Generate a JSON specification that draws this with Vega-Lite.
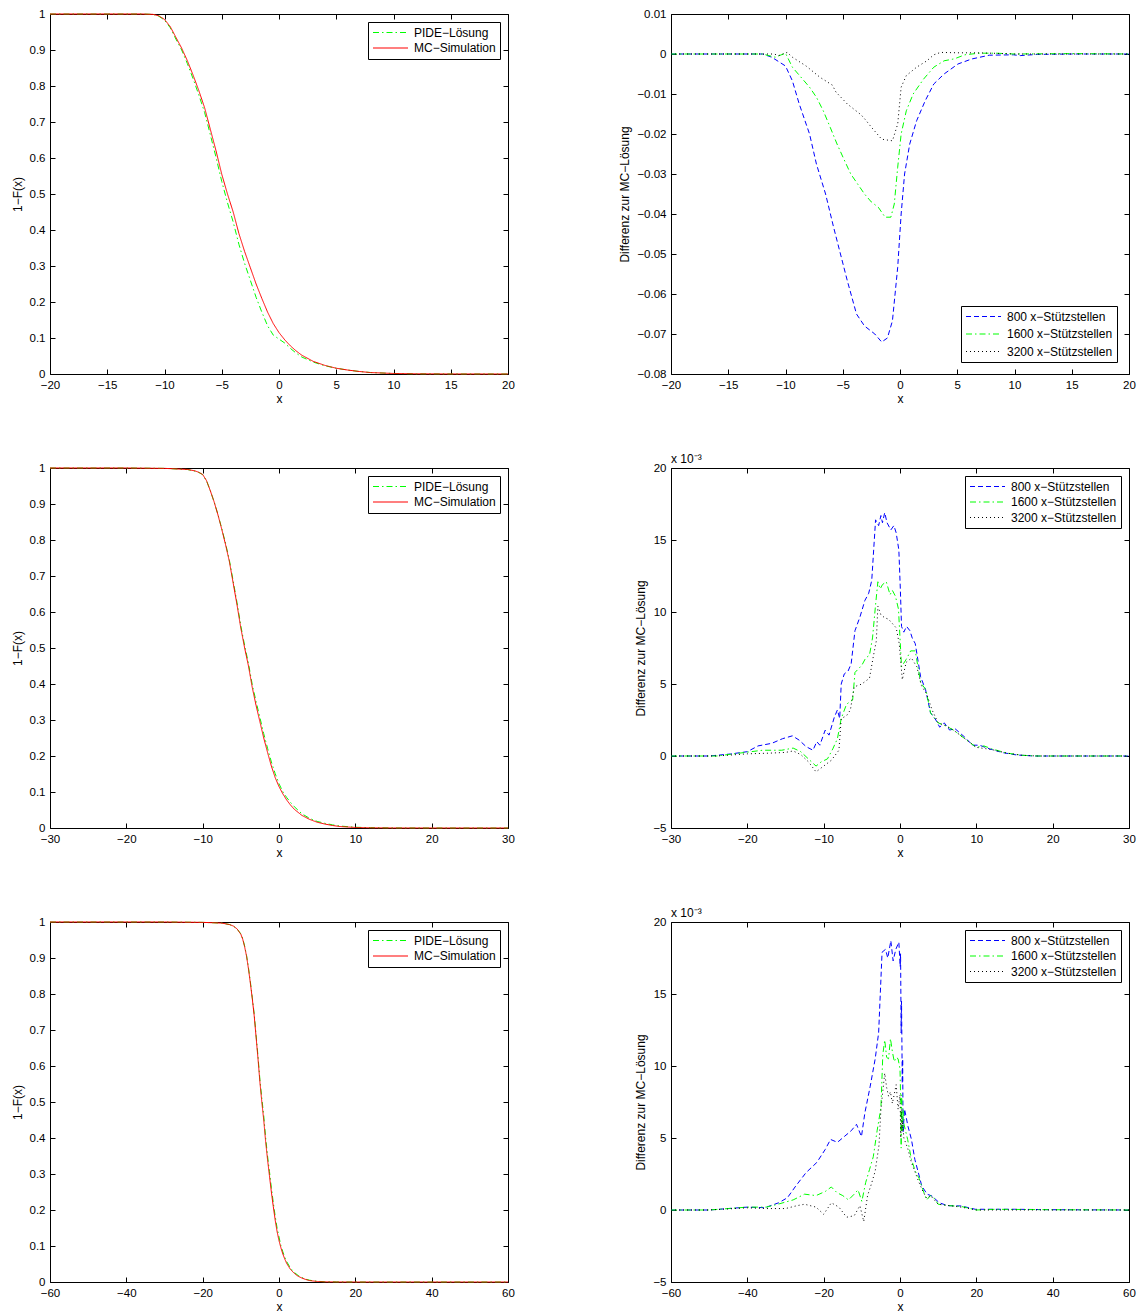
{
"$schema": "https://vega.github.io/schema/vega-lite/v6.json",
"background": "white",
"padding": {"left": 10, "top": 7, "right": 5, "bottom": 5},
"config": {
  "font": "Liberation Sans",
  "view": {"stroke": "black", "strokeWidth": 1},
  "axis": {"grid": false, "domain": false, "tickColor": "black", "tickSize": -5, "tickWidth": 1, "labelFont": "Liberation Sans", "labelFontSize": 11.5, "labelColor": "black", "titleFont": "Liberation Sans", "titleFontSize": 12, "titleFontWeight": "normal", "titleColor": "black", "labelFlush": false, "labelOverlap": false, "format": "~f"},
  "axisX": {"labelPadding": 10, "titlePadding": 3},
  "axisY": {"labelPadding": 10, "titlePadding": 5},
  "legend": {"labelFont": "Liberation Sans", "labelFontSize": 12, "labelColor": "black", "strokeColor": "black", "fillColor": "white", "padding": 4, "symbolType": "stroke", "symbolSize": 1225, "symbolStrokeWidth": 1.2, "symbolOpacity": 1, "clipHeight": 13, "rowPadding": 2.5, "labelOffset": 5},
  "title": {"font": "Liberation Sans", "fontSize": 12, "fontWeight": "normal", "color": "black"}
},
"datasets": {
"a": [
{"s":"PIDE−Lösung","x":-20,"y":1},{"s":"PIDE−Lösung","x":-15,"y":1},{"s":"PIDE−Lösung","x":-12,"y":1},{"s":"PIDE−Lösung","x":-11,"y":0.999},{"s":"PIDE−Lösung","x":-10.5,"y":0.994},{"s":"PIDE−Lösung","x":-10,"y":0.983},{"s":"PIDE−Lösung","x":-9.5,"y":0.962},{"s":"PIDE−Lösung","x":-9,"y":0.93},{"s":"PIDE−Lösung","x":-8.5,"y":0.9},{"s":"PIDE−Lösung","x":-8,"y":0.862},{"s":"PIDE−Lösung","x":-7.5,"y":0.82},{"s":"PIDE−Lösung","x":-7,"y":0.775},{"s":"PIDE−Lösung","x":-6.5,"y":0.727},{"s":"PIDE−Lösung","x":-6,"y":0.665},{"s":"PIDE−Lösung","x":-5.5,"y":0.602},{"s":"PIDE−Lösung","x":-5,"y":0.535},{"s":"PIDE−Lösung","x":-4.5,"y":0.476},{"s":"PIDE−Lösung","x":-4,"y":0.422},{"s":"PIDE−Lösung","x":-3.5,"y":0.36},{"s":"PIDE−Lösung","x":-3,"y":0.307},{"s":"PIDE−Lösung","x":-2.5,"y":0.26},{"s":"PIDE−Lösung","x":-2,"y":0.213},{"s":"PIDE−Lösung","x":-1.5,"y":0.172},{"s":"PIDE−Lösung","x":-1,"y":0.134},{"s":"PIDE−Lösung","x":-0.5,"y":0.108},{"s":"PIDE−Lösung","x":0,"y":0.097},{"s":"PIDE−Lösung","x":0.5,"y":0.086},{"s":"PIDE−Lösung","x":1,"y":0.071},{"s":"PIDE−Lösung","x":1.5,"y":0.058},{"s":"PIDE−Lösung","x":2,"y":0.047},{"s":"PIDE−Lösung","x":3,"y":0.033},{"s":"PIDE−Lösung","x":4,"y":0.023},{"s":"PIDE−Lösung","x":5,"y":0.016},{"s":"PIDE−Lösung","x":6,"y":0.011},{"s":"PIDE−Lösung","x":7,"y":0.007},{"s":"PIDE−Lösung","x":8,"y":0.004},{"s":"PIDE−Lösung","x":10,"y":0.0015},{"s":"PIDE−Lösung","x":12,"y":0.0005},{"s":"PIDE−Lösung","x":15,"y":0.0001},{"s":"PIDE−Lösung","x":20,"y":0},
{"s":"MC−Simulation","x":-20,"y":1},{"s":"MC−Simulation","x":-15,"y":1},{"s":"MC−Simulation","x":-12,"y":1},{"s":"MC−Simulation","x":-11,"y":0.999},{"s":"MC−Simulation","x":-10.5,"y":0.995},{"s":"MC−Simulation","x":-10,"y":0.985},{"s":"MC−Simulation","x":-9.5,"y":0.965},{"s":"MC−Simulation","x":-9,"y":0.935},{"s":"MC−Simulation","x":-8.5,"y":0.905},{"s":"MC−Simulation","x":-8,"y":0.87},{"s":"MC−Simulation","x":-7.5,"y":0.83},{"s":"MC−Simulation","x":-7,"y":0.787},{"s":"MC−Simulation","x":-6.5,"y":0.74},{"s":"MC−Simulation","x":-6,"y":0.68},{"s":"MC−Simulation","x":-5.5,"y":0.62},{"s":"MC−Simulation","x":-5,"y":0.555},{"s":"MC−Simulation","x":-4.5,"y":0.5},{"s":"MC−Simulation","x":-4,"y":0.45},{"s":"MC−Simulation","x":-3.5,"y":0.39},{"s":"MC−Simulation","x":-3,"y":0.34},{"s":"MC−Simulation","x":-2.5,"y":0.295},{"s":"MC−Simulation","x":-2,"y":0.25},{"s":"MC−Simulation","x":-1.5,"y":0.21},{"s":"MC−Simulation","x":-1,"y":0.172},{"s":"MC−Simulation","x":-0.5,"y":0.14},{"s":"MC−Simulation","x":0,"y":0.115},{"s":"MC−Simulation","x":0.5,"y":0.095},{"s":"MC−Simulation","x":1,"y":0.078},{"s":"MC−Simulation","x":1.5,"y":0.064},{"s":"MC−Simulation","x":2,"y":0.052},{"s":"MC−Simulation","x":3,"y":0.035},{"s":"MC−Simulation","x":4,"y":0.024},{"s":"MC−Simulation","x":5,"y":0.016},{"s":"MC−Simulation","x":6,"y":0.011},{"s":"MC−Simulation","x":7,"y":0.007},{"s":"MC−Simulation","x":8,"y":0.004},{"s":"MC−Simulation","x":10,"y":0.0015},{"s":"MC−Simulation","x":12,"y":0.0005},{"s":"MC−Simulation","x":15,"y":0.0001},{"s":"MC−Simulation","x":20,"y":0}
],
"b": [
{"s":"800 x−Stützstellen","x":-20,"y":0},{"s":"800 x−Stützstellen","x":-15,"y":0},{"s":"800 x−Stützstellen","x":-12,"y":0},{"s":"800 x−Stützstellen","x":-11.2,"y":-0.0008},{"s":"800 x−Stützstellen","x":-10,"y":-0.003},{"s":"800 x−Stützstellen","x":-9.4,"y":-0.0067},{"s":"800 x−Stützstellen","x":-8.8,"y":-0.0125},{"s":"800 x−Stützstellen","x":-7.9,"y":-0.02},{"s":"800 x−Stützstellen","x":-7.3,"y":-0.0275},{"s":"800 x−Stützstellen","x":-6.5,"y":-0.035},{"s":"800 x−Stützstellen","x":-5.8,"y":-0.0433},{"s":"800 x−Stützstellen","x":-5.2,"y":-0.05},{"s":"800 x−Stützstellen","x":-4.6,"y":-0.0567},{"s":"800 x−Stützstellen","x":-3.8,"y":-0.065},{"s":"800 x−Stützstellen","x":-3.1,"y":-0.068},{"s":"800 x−Stützstellen","x":-2.2,"y":-0.07},{"s":"800 x−Stützstellen","x":-1.6,"y":-0.072},{"s":"800 x−Stützstellen","x":-1.1,"y":-0.071},{"s":"800 x−Stützstellen","x":-0.66,"y":-0.0667},{"s":"800 x−Stützstellen","x":-0.2,"y":-0.0533},{"s":"800 x−Stützstellen","x":0.1,"y":-0.04},{"s":"800 x−Stützstellen","x":0.4,"y":-0.03},{"s":"800 x−Stützstellen","x":0.85,"y":-0.0225},{"s":"800 x−Stützstellen","x":1.45,"y":-0.0167},{"s":"800 x−Stützstellen","x":2.2,"y":-0.0117},{"s":"800 x−Stützstellen","x":2.95,"y":-0.0075},{"s":"800 x−Stützstellen","x":3.85,"y":-0.005},{"s":"800 x−Stützstellen","x":5.06,"y":-0.0025},{"s":"800 x−Stützstellen","x":6.26,"y":-0.00125},{"s":"800 x−Stützstellen","x":7.8,"y":-0.0003},{"s":"800 x−Stützstellen","x":9.9,"y":-0.0002},{"s":"800 x−Stützstellen","x":10.5,"y":-0.0004},{"s":"800 x−Stützstellen","x":12,"y":-0.0001},{"s":"800 x−Stützstellen","x":15,"y":0},{"s":"800 x−Stützstellen","x":20,"y":0},
{"s":"1600 x−Stützstellen","x":-20,"y":0},{"s":"1600 x−Stützstellen","x":-15,"y":0},{"s":"1600 x−Stützstellen","x":-12,"y":0},{"s":"1600 x−Stützstellen","x":-10.9,"y":-0.0008},{"s":"1600 x−Stützstellen","x":-10,"y":0.0002},{"s":"1600 x−Stützstellen","x":-9.4,"y":-0.0033},{"s":"1600 x−Stützstellen","x":-8.5,"y":-0.0063},{"s":"1600 x−Stützstellen","x":-7.9,"y":-0.0083},{"s":"1600 x−Stützstellen","x":-7.3,"y":-0.0108},{"s":"1600 x−Stützstellen","x":-6.7,"y":-0.0142},{"s":"1600 x−Stützstellen","x":-6.1,"y":-0.0183},{"s":"1600 x−Stützstellen","x":-5.5,"y":-0.0225},{"s":"1600 x−Stützstellen","x":-4.9,"y":-0.0263},{"s":"1600 x−Stützstellen","x":-4.3,"y":-0.03},{"s":"1600 x−Stützstellen","x":-3.7,"y":-0.0325},{"s":"1600 x−Stützstellen","x":-3.1,"y":-0.035},{"s":"1600 x−Stützstellen","x":-2.5,"y":-0.037},{"s":"1600 x−Stützstellen","x":-1.9,"y":-0.0383},{"s":"1600 x−Stützstellen","x":-1.3,"y":-0.0408},{"s":"1600 x−Stützstellen","x":-0.8,"y":-0.0408},{"s":"1600 x−Stützstellen","x":-0.5,"y":-0.0375},{"s":"1600 x−Stützstellen","x":-0.2,"y":-0.0283},{"s":"1600 x−Stützstellen","x":0.1,"y":-0.02},{"s":"1600 x−Stützstellen","x":0.55,"y":-0.0142},{"s":"1600 x−Stützstellen","x":1.15,"y":-0.01},{"s":"1600 x−Stützstellen","x":2.05,"y":-0.0063},{"s":"1600 x−Stützstellen","x":2.95,"y":-0.0033},{"s":"1600 x−Stützstellen","x":3.85,"y":-0.0017},{"s":"1600 x−Stützstellen","x":4.76,"y":-0.0012},{"s":"1600 x−Stützstellen","x":5.66,"y":-0.0002},{"s":"1600 x−Stützstellen","x":6.9,"y":0.0002},{"s":"1600 x−Stützstellen","x":8.4,"y":0.0002},{"s":"1600 x−Stützstellen","x":10,"y":0},{"s":"1600 x−Stützstellen","x":15,"y":0.0001},{"s":"1600 x−Stützstellen","x":20,"y":0},
{"s":"3200 x−Stützstellen","x":-20,"y":0},{"s":"3200 x−Stützstellen","x":-15,"y":0},{"s":"3200 x−Stützstellen","x":-11,"y":0},{"s":"3200 x−Stützstellen","x":-10.6,"y":-0.0004},{"s":"3200 x−Stützstellen","x":-9.85,"y":0.0004},{"s":"3200 x−Stützstellen","x":-9.4,"y":-0.0008},{"s":"3200 x−Stützstellen","x":-8.2,"y":-0.003},{"s":"3200 x−Stützstellen","x":-7,"y":-0.0058},{"s":"3200 x−Stützstellen","x":-5.9,"y":-0.0078},{"s":"3200 x−Stützstellen","x":-5.6,"y":-0.0095},{"s":"3200 x−Stützstellen","x":-4.6,"y":-0.0125},{"s":"3200 x−Stützstellen","x":-3.4,"y":-0.0152},{"s":"3200 x−Stützstellen","x":-3,"y":-0.0165},{"s":"3200 x−Stützstellen","x":-2.5,"y":-0.0183},{"s":"3200 x−Stützstellen","x":-1.6,"y":-0.0213},{"s":"3200 x−Stützstellen","x":-0.66,"y":-0.0217},{"s":"3200 x−Stützstellen","x":-0.2,"y":-0.0175},{"s":"3200 x−Stützstellen","x":0.1,"y":-0.0083},{"s":"3200 x−Stützstellen","x":0.55,"y":-0.0054},{"s":"3200 x−Stützstellen","x":1.45,"y":-0.0033},{"s":"3200 x−Stützstellen","x":2.35,"y":-0.0017},{"s":"3200 x−Stützstellen","x":2.95,"y":-0.0002},{"s":"3200 x−Stützstellen","x":3.55,"y":0.0004},{"s":"3200 x−Stützstellen","x":5.06,"y":0.0003},{"s":"3200 x−Stützstellen","x":6.57,"y":0.0003},{"s":"3200 x−Stützstellen","x":8,"y":0.0002},{"s":"3200 x−Stützstellen","x":10,"y":0},{"s":"3200 x−Stützstellen","x":20,"y":0}
],
"c": [
{"s":"PIDE−Lösung","x":-30,"y":1},{"s":"PIDE−Lösung","x":-20,"y":1},{"s":"PIDE−Lösung","x":-15,"y":0.999},{"s":"PIDE−Lösung","x":-12,"y":0.9958},{"s":"PIDE−Lösung","x":-11,"y":0.9913},{"s":"PIDE−Lösung","x":-10.5,"y":0.9875},{"s":"PIDE−Lösung","x":-10,"y":0.9817},{"s":"PIDE−Lösung","x":-9.5,"y":0.9648},{"s":"PIDE−Lösung","x":-9,"y":0.9373},{"s":"PIDE−Lösung","x":-8.5,"y":0.906},{"s":"PIDE−Lösung","x":-8,"y":0.871},{"s":"PIDE−Lösung","x":-7.5,"y":0.832},{"s":"PIDE−Lösung","x":-7,"y":0.7906},{"s":"PIDE−Lösung","x":-6.5,"y":0.7438},{"s":"PIDE−Lösung","x":-6,"y":0.6858},{"s":"PIDE−Lösung","x":-5.5,"y":0.626},{"s":"PIDE−Lösung","x":-5,"y":0.5613},{"s":"PIDE−Lösung","x":-4.5,"y":0.5068},{"s":"PIDE−Lösung","x":-4,"y":0.457},{"s":"PIDE−Lösung","x":-3.5,"y":0.398},{"s":"PIDE−Lösung","x":-3,"y":0.351},{"s":"PIDE−Lösung","x":-2.5,"y":0.3068},{"s":"PIDE−Lösung","x":-2,"y":0.262},{"s":"PIDE−Lösung","x":-1.5,"y":0.2217},{"s":"PIDE−Lösung","x":-1,"y":0.1835},{"s":"PIDE−Lösung","x":-0.5,"y":0.151},{"s":"PIDE−Lösung","x":0,"y":0.123},{"s":"PIDE−Lösung","x":0.5,"y":0.101},{"s":"PIDE−Lösung","x":1,"y":0.0849},{"s":"PIDE−Lösung","x":1.5,"y":0.0713},{"s":"PIDE−Lösung","x":2,"y":0.0593},{"s":"PIDE−Lösung","x":3,"y":0.0395},{"s":"PIDE−Lösung","x":4,"y":0.027},{"s":"PIDE−Lösung","x":5,"y":0.0183},{"s":"PIDE−Lösung","x":6,"y":0.0131},{"s":"PIDE−Lösung","x":7,"y":0.0088},{"s":"PIDE−Lösung","x":8,"y":0.0054},{"s":"PIDE−Lösung","x":10,"y":0.0021},{"s":"PIDE−Lösung","x":12,"y":0.001},{"s":"PIDE−Lösung","x":15,"y":0.0002},{"s":"PIDE−Lösung","x":20,"y":0},{"s":"PIDE−Lösung","x":30,"y":0},
{"s":"MC−Simulation","x":-30,"y":1},{"s":"MC−Simulation","x":-20,"y":1},{"s":"MC−Simulation","x":-15,"y":0.999},{"s":"MC−Simulation","x":-12,"y":0.996},{"s":"MC−Simulation","x":-11,"y":0.992},{"s":"MC−Simulation","x":-10.5,"y":0.988},{"s":"MC−Simulation","x":-10,"y":0.982},{"s":"MC−Simulation","x":-9.5,"y":0.965},{"s":"MC−Simulation","x":-9,"y":0.937},{"s":"MC−Simulation","x":-8.5,"y":0.906},{"s":"MC−Simulation","x":-8,"y":0.87},{"s":"MC−Simulation","x":-7.5,"y":0.83},{"s":"MC−Simulation","x":-7,"y":0.787},{"s":"MC−Simulation","x":-6.5,"y":0.74},{"s":"MC−Simulation","x":-6,"y":0.68},{"s":"MC−Simulation","x":-5.5,"y":0.62},{"s":"MC−Simulation","x":-5,"y":0.555},{"s":"MC−Simulation","x":-4.5,"y":0.5},{"s":"MC−Simulation","x":-4,"y":0.45},{"s":"MC−Simulation","x":-3.5,"y":0.39},{"s":"MC−Simulation","x":-3,"y":0.34},{"s":"MC−Simulation","x":-2.5,"y":0.295},{"s":"MC−Simulation","x":-2,"y":0.25},{"s":"MC−Simulation","x":-1.5,"y":0.21},{"s":"MC−Simulation","x":-1,"y":0.172},{"s":"MC−Simulation","x":-0.5,"y":0.14},{"s":"MC−Simulation","x":0,"y":0.115},{"s":"MC−Simulation","x":0.5,"y":0.095},{"s":"MC−Simulation","x":1,"y":0.078},{"s":"MC−Simulation","x":1.5,"y":0.064},{"s":"MC−Simulation","x":2,"y":0.052},{"s":"MC−Simulation","x":3,"y":0.035},{"s":"MC−Simulation","x":4,"y":0.024},{"s":"MC−Simulation","x":5,"y":0.016},{"s":"MC−Simulation","x":6,"y":0.011},{"s":"MC−Simulation","x":7,"y":0.007},{"s":"MC−Simulation","x":8,"y":0.004},{"s":"MC−Simulation","x":10,"y":0.0015},{"s":"MC−Simulation","x":12,"y":0.0005},{"s":"MC−Simulation","x":15,"y":0.0001},{"s":"MC−Simulation","x":20,"y":0},{"s":"MC−Simulation","x":30,"y":0}
],
"d": [
{"s":"800 x−Stützstellen","x":-30,"y":0},{"s":"800 x−Stützstellen","x":-25,"y":0},{"s":"800 x−Stützstellen","x":-22.2,"y":0.14},{"s":"800 x−Stützstellen","x":-20,"y":0.3},{"s":"800 x−Stützstellen","x":-18.6,"y":0.7},{"s":"800 x−Stützstellen","x":-16.8,"y":0.88},{"s":"800 x−Stützstellen","x":-15.4,"y":1.2},{"s":"800 x−Stützstellen","x":-14.1,"y":1.4},{"s":"800 x−Stützstellen","x":-13.2,"y":1.1},{"s":"800 x−Stützstellen","x":-12.3,"y":0.65},{"s":"800 x−Stützstellen","x":-11.4,"y":0.4},{"s":"800 x−Stützstellen","x":-10.9,"y":1.0},{"s":"800 x−Stützstellen","x":-10.5,"y":0.75},{"s":"800 x−Stützstellen","x":-9.8,"y":1.8},{"s":"800 x−Stützstellen","x":-9.3,"y":1.45},{"s":"800 x−Stützstellen","x":-8.6,"y":2.7},{"s":"800 x−Stützstellen","x":-8.2,"y":3.2},{"s":"800 x−Stützstellen","x":-7.9,"y":2.6},{"s":"800 x−Stützstellen","x":-7.7,"y":5.0},{"s":"800 x−Stützstellen","x":-7.3,"y":5.7},{"s":"800 x−Stützstellen","x":-6.8,"y":5.9},{"s":"800 x−Stützstellen","x":-6.4,"y":6.4},{"s":"800 x−Stützstellen","x":-5.9,"y":8.7},{"s":"800 x−Stützstellen","x":-5.25,"y":9.65},{"s":"800 x−Stützstellen","x":-4.6,"y":10.8},{"s":"800 x−Stützstellen","x":-4.1,"y":11.3},{"s":"800 x−Stützstellen","x":-3.7,"y":12.2},{"s":"800 x−Stützstellen","x":-3.2,"y":16.4},{"s":"800 x−Stützstellen","x":-2.8,"y":16.0},{"s":"800 x−Stützstellen","x":-2.5,"y":16.7},{"s":"800 x−Stützstellen","x":-2.3,"y":16.2},{"s":"800 x−Stützstellen","x":-2.0,"y":16.9},{"s":"800 x−Stützstellen","x":-1.7,"y":16.2},{"s":"800 x−Stützstellen","x":-1.2,"y":15.7},{"s":"800 x−Stützstellen","x":-0.8,"y":16.0},{"s":"800 x−Stützstellen","x":-0.5,"y":15.5},{"s":"800 x−Stützstellen","x":-0.15,"y":14.3},{"s":"800 x−Stützstellen","x":0.05,"y":11.5},{"s":"800 x−Stützstellen","x":0.2,"y":9.0},{"s":"800 x−Stützstellen","x":0.5,"y":8.6},{"s":"800 x−Stützstellen","x":0.86,"y":9.0},{"s":"800 x−Stützstellen","x":1.3,"y":8.7},{"s":"800 x−Stützstellen","x":1.6,"y":8.2},{"s":"800 x−Stützstellen","x":2.0,"y":7.8},{"s":"800 x−Stützstellen","x":2.7,"y":5.5},{"s":"800 x−Stützstellen","x":3.35,"y":4.6},{"s":"800 x−Stützstellen","x":4.0,"y":3.0},{"s":"800 x−Stützstellen","x":4.7,"y":2.5},{"s":"800 x−Stützstellen","x":5.2,"y":2.0},{"s":"800 x−Stützstellen","x":5.8,"y":2.3},{"s":"800 x−Stützstellen","x":6.5,"y":1.8},{"s":"800 x−Stützstellen","x":7.2,"y":1.9},{"s":"800 x−Stützstellen","x":8.5,"y":1.3},{"s":"800 x−Stützstellen","x":9.5,"y":0.75},{"s":"800 x−Stützstellen","x":10.4,"y":0.75},{"s":"800 x−Stützstellen","x":11.7,"y":0.5},{"s":"800 x−Stützstellen","x":13.5,"y":0.23},{"s":"800 x−Stützstellen","x":15.3,"y":0.07},{"s":"800 x−Stützstellen","x":17.6,"y":0},{"s":"800 x−Stützstellen","x":30,"y":0},
{"s":"1600 x−Stützstellen","x":-30,"y":0},{"s":"1600 x−Stützstellen","x":-24,"y":0},{"s":"1600 x−Stützstellen","x":-21,"y":0.2},{"s":"1600 x−Stützstellen","x":-18,"y":0.4},{"s":"1600 x−Stützstellen","x":-15.5,"y":0.4},{"s":"1600 x−Stützstellen","x":-14,"y":0.55},{"s":"1600 x−Stützstellen","x":-13,"y":0.3},{"s":"1600 x−Stützstellen","x":-12,"y":-0.2},{"s":"1600 x−Stützstellen","x":-11,"y":-0.7},{"s":"1600 x−Stützstellen","x":-10.3,"y":-0.4},{"s":"1600 x−Stützstellen","x":-9.5,"y":-0.2},{"s":"1600 x−Stützstellen","x":-8.8,"y":0.5},{"s":"1600 x−Stützstellen","x":-8.2,"y":1.2},{"s":"1600 x−Stützstellen","x":-7.7,"y":2.6},{"s":"1600 x−Stützstellen","x":-7,"y":3.6},{"s":"1600 x−Stützstellen","x":-6.2,"y":3.9},{"s":"1600 x−Stützstellen","x":-5.9,"y":5.8},{"s":"1600 x−Stützstellen","x":-5,"y":6.3},{"s":"1600 x−Stützstellen","x":-4.5,"y":6.8},{"s":"1600 x−Stützstellen","x":-4,"y":7.0},{"s":"1600 x−Stützstellen","x":-3.6,"y":8.2},{"s":"1600 x−Stützstellen","x":-3.2,"y":10.5},{"s":"1600 x−Stützstellen","x":-2.9,"y":12.1},{"s":"1600 x−Stützstellen","x":-2.6,"y":11.6},{"s":"1600 x−Stützstellen","x":-2.3,"y":11.9},{"s":"1600 x−Stützstellen","x":-1.8,"y":12.1},{"s":"1600 x−Stützstellen","x":-1.3,"y":11.2},{"s":"1600 x−Stützstellen","x":-1,"y":11.5},{"s":"1600 x−Stützstellen","x":-0.6,"y":11.1},{"s":"1600 x−Stützstellen","x":-0.2,"y":10.2},{"s":"1600 x−Stützstellen","x":0.2,"y":6.2},{"s":"1600 x−Stützstellen","x":0.8,"y":6.7},{"s":"1600 x−Stützstellen","x":1.4,"y":7.3},{"s":"1600 x−Stützstellen","x":2.0,"y":7.3},{"s":"1600 x−Stützstellen","x":2.7,"y":5.1},{"s":"1600 x−Stützstellen","x":3.4,"y":4.6},{"s":"1600 x−Stützstellen","x":4.0,"y":3.0},{"s":"1600 x−Stützstellen","x":5,"y":2.3},{"s":"1600 x−Stützstellen","x":6,"y":2.1},{"s":"1600 x−Stützstellen","x":7,"y":1.8},{"s":"1600 x−Stützstellen","x":8.5,"y":1.2},{"s":"1600 x−Stützstellen","x":10,"y":0.6},{"s":"1600 x−Stützstellen","x":11,"y":0.7},{"s":"1600 x−Stützstellen","x":12,"y":0.5},{"s":"1600 x−Stützstellen","x":14,"y":0.2},{"s":"1600 x−Stützstellen","x":16,"y":0.05},{"s":"1600 x−Stützstellen","x":18,"y":0},{"s":"1600 x−Stützstellen","x":30,"y":0},
{"s":"3200 x−Stützstellen","x":-30,"y":0},{"s":"3200 x−Stützstellen","x":-24,"y":0},{"s":"3200 x−Stützstellen","x":-20,"y":0.15},{"s":"3200 x−Stützstellen","x":-17,"y":0.2},{"s":"3200 x−Stützstellen","x":-15,"y":0.25},{"s":"3200 x−Stützstellen","x":-14,"y":0.35},{"s":"3200 x−Stützstellen","x":-13,"y":0.1},{"s":"3200 x−Stützstellen","x":-12,"y":-0.4},{"s":"3200 x−Stützstellen","x":-11,"y":-1.1},{"s":"3200 x−Stützstellen","x":-10,"y":-0.7},{"s":"3200 x−Stützstellen","x":-9,"y":-0.3},{"s":"3200 x−Stützstellen","x":-8,"y":0.4},{"s":"3200 x−Stützstellen","x":-7.7,"y":2.6},{"s":"3200 x−Stützstellen","x":-7,"y":2.8},{"s":"3200 x−Stützstellen","x":-6.5,"y":3.2},{"s":"3200 x−Stützstellen","x":-6,"y":4.8},{"s":"3200 x−Stützstellen","x":-5,"y":5.0},{"s":"3200 x−Stützstellen","x":-4,"y":5.4},{"s":"3200 x−Stützstellen","x":-3.5,"y":6.9},{"s":"3200 x−Stützstellen","x":-3.1,"y":8.0},{"s":"3200 x−Stützstellen","x":-2.9,"y":10.4},{"s":"3200 x−Stützstellen","x":-2.5,"y":9.8},{"s":"3200 x−Stützstellen","x":-2,"y":9.6},{"s":"3200 x−Stützstellen","x":-1.5,"y":9.5},{"s":"3200 x−Stützstellen","x":-1,"y":9.2},{"s":"3200 x−Stützstellen","x":-0.5,"y":8.9},{"s":"3200 x−Stützstellen","x":-0.1,"y":7.8},{"s":"3200 x−Stützstellen","x":0.3,"y":5.3},{"s":"3200 x−Stützstellen","x":0.8,"y":6.5},{"s":"3200 x−Stützstellen","x":1.5,"y":6.8},{"s":"3200 x−Stützstellen","x":2.2,"y":6.2},{"s":"3200 x−Stützstellen","x":2.8,"y":4.9},{"s":"3200 x−Stützstellen","x":3.5,"y":4.3},{"s":"3200 x−Stützstellen","x":4.2,"y":3.2},{"s":"3200 x−Stützstellen","x":5,"y":2.3},{"s":"3200 x−Stützstellen","x":6,"y":2.1},{"s":"3200 x−Stützstellen","x":7,"y":1.8},{"s":"3200 x−Stützstellen","x":8.5,"y":1.2},{"s":"3200 x−Stützstellen","x":10,"y":0.6},{"s":"3200 x−Stützstellen","x":12,"y":0.45},{"s":"3200 x−Stützstellen","x":14,"y":0.2},{"s":"3200 x−Stützstellen","x":16,"y":0.05},{"s":"3200 x−Stützstellen","x":18,"y":0},{"s":"3200 x−Stützstellen","x":30,"y":0}
],
"e": [
{"s":"PIDE−Lösung","x":-60,"y":1},{"s":"PIDE−Lösung","x":-30,"y":1},{"s":"PIDE−Lösung","x":-25,"y":0.9995},{"s":"PIDE−Lösung","x":-20,"y":0.999},{"s":"PIDE−Lösung","x":-15,"y":0.997},{"s":"PIDE−Lösung","x":-13,"y":0.993},{"s":"PIDE−Lösung","x":-12,"y":0.989},{"s":"PIDE−Lösung","x":-11,"y":0.981},{"s":"PIDE−Lösung","x":-10,"y":0.967},{"s":"PIDE−Lösung","x":-9.5,"y":0.954},{"s":"PIDE−Lösung","x":-9,"y":0.933},{"s":"PIDE−Lösung","x":-8.5,"y":0.907},{"s":"PIDE−Lösung","x":-8,"y":0.873},{"s":"PIDE−Lösung","x":-7.5,"y":0.834},{"s":"PIDE−Lösung","x":-7,"y":0.79},{"s":"PIDE−Lösung","x":-6.5,"y":0.745},{"s":"PIDE−Lösung","x":-6,"y":0.6855},{"s":"PIDE−Lösung","x":-5.5,"y":0.627},{"s":"PIDE−Lösung","x":-5,"y":0.562},{"s":"PIDE−Lösung","x":-4.5,"y":0.51},{"s":"PIDE−Lösung","x":-4,"y":0.462},{"s":"PIDE−Lösung","x":-3.5,"y":0.401},{"s":"PIDE−Lösung","x":-3,"y":0.35},{"s":"PIDE−Lösung","x":-2.5,"y":0.307},{"s":"PIDE−Lösung","x":-2,"y":0.262},{"s":"PIDE−Lösung","x":-1.5,"y":0.221},{"s":"PIDE−Lösung","x":-1,"y":0.183},{"s":"PIDE−Lösung","x":-0.5,"y":0.15},{"s":"PIDE−Lösung","x":0,"y":0.125},{"s":"PIDE−Lösung","x":0.5,"y":0.101},{"s":"PIDE−Lösung","x":1,"y":0.084},{"s":"PIDE−Lösung","x":1.5,"y":0.069},{"s":"PIDE−Lösung","x":2,"y":0.057},{"s":"PIDE−Lösung","x":3,"y":0.0385},{"s":"PIDE−Lösung","x":4,"y":0.0267},{"s":"PIDE−Lösung","x":5,"y":0.0182},{"s":"PIDE−Lösung","x":6,"y":0.0124},{"s":"PIDE−Lösung","x":7,"y":0.0077},{"s":"PIDE−Lösung","x":8,"y":0.005},{"s":"PIDE−Lösung","x":10,"y":0.0019},{"s":"PIDE−Lösung","x":12,"y":0.0008},{"s":"PIDE−Lösung","x":15,"y":0.0003},{"s":"PIDE−Lösung","x":20,"y":0},{"s":"PIDE−Lösung","x":60,"y":0},
{"s":"MC−Simulation","x":-60,"y":1},{"s":"MC−Simulation","x":-30,"y":1},{"s":"MC−Simulation","x":-25,"y":0.9995},{"s":"MC−Simulation","x":-20,"y":0.999},{"s":"MC−Simulation","x":-15,"y":0.997},{"s":"MC−Simulation","x":-13,"y":0.993},{"s":"MC−Simulation","x":-12,"y":0.989},{"s":"MC−Simulation","x":-11,"y":0.981},{"s":"MC−Simulation","x":-10,"y":0.966},{"s":"MC−Simulation","x":-9.5,"y":0.952},{"s":"MC−Simulation","x":-9,"y":0.931},{"s":"MC−Simulation","x":-8.5,"y":0.905},{"s":"MC−Simulation","x":-8,"y":0.87},{"s":"MC−Simulation","x":-7.5,"y":0.83},{"s":"MC−Simulation","x":-7,"y":0.787},{"s":"MC−Simulation","x":-6.5,"y":0.74},{"s":"MC−Simulation","x":-6,"y":0.68},{"s":"MC−Simulation","x":-5.5,"y":0.62},{"s":"MC−Simulation","x":-5,"y":0.555},{"s":"MC−Simulation","x":-4.5,"y":0.5},{"s":"MC−Simulation","x":-4,"y":0.45},{"s":"MC−Simulation","x":-3.5,"y":0.39},{"s":"MC−Simulation","x":-3,"y":0.34},{"s":"MC−Simulation","x":-2.5,"y":0.295},{"s":"MC−Simulation","x":-2,"y":0.25},{"s":"MC−Simulation","x":-1.5,"y":0.21},{"s":"MC−Simulation","x":-1,"y":0.172},{"s":"MC−Simulation","x":-0.5,"y":0.14},{"s":"MC−Simulation","x":0,"y":0.115},{"s":"MC−Simulation","x":0.5,"y":0.095},{"s":"MC−Simulation","x":1,"y":0.078},{"s":"MC−Simulation","x":1.5,"y":0.064},{"s":"MC−Simulation","x":2,"y":0.052},{"s":"MC−Simulation","x":3,"y":0.035},{"s":"MC−Simulation","x":4,"y":0.024},{"s":"MC−Simulation","x":5,"y":0.016},{"s":"MC−Simulation","x":6,"y":0.011},{"s":"MC−Simulation","x":7,"y":0.007},{"s":"MC−Simulation","x":8,"y":0.004},{"s":"MC−Simulation","x":10,"y":0.0015},{"s":"MC−Simulation","x":12,"y":0.0005},{"s":"MC−Simulation","x":15,"y":0.0001},{"s":"MC−Simulation","x":20,"y":0},{"s":"MC−Simulation","x":60,"y":0}
],
"f": [
{"s":"800 x−Stützstellen","x":-60,"y":0},{"s":"800 x−Stützstellen","x":-50,"y":0},{"s":"800 x−Stützstellen","x":-45,"y":0.1},{"s":"800 x−Stützstellen","x":-40,"y":0.2},{"s":"800 x−Stützstellen","x":-35.4,"y":0.16},{"s":"800 x−Stützstellen","x":-31.8,"y":0.5},{"s":"800 x−Stützstellen","x":-29.5,"y":0.85},{"s":"800 x−Stützstellen","x":-27.3,"y":1.67},{"s":"800 x−Stützstellen","x":-24.6,"y":2.6},{"s":"800 x−Stützstellen","x":-21.8,"y":3.3},{"s":"800 x−Stützstellen","x":-19.6,"y":4.2},{"s":"800 x−Stützstellen","x":-18.2,"y":4.9},{"s":"800 x−Stützstellen","x":-16.4,"y":4.7},{"s":"800 x−Stützstellen","x":-14.6,"y":5.1},{"s":"800 x−Stützstellen","x":-12.8,"y":5.5},{"s":"800 x−Stützstellen","x":-11.4,"y":5.95},{"s":"800 x−Stützstellen","x":-10.1,"y":5.1},{"s":"800 x−Stützstellen","x":-9.2,"y":6.75},{"s":"800 x−Stützstellen","x":-7.8,"y":8.6},{"s":"800 x−Stützstellen","x":-6.5,"y":10.5},{"s":"800 x−Stützstellen","x":-5.6,"y":12.3},{"s":"800 x−Stützstellen","x":-4.7,"y":17.9},{"s":"800 x−Stützstellen","x":-3.8,"y":18.1},{"s":"800 x−Stützstellen","x":-3.2,"y":17.5},{"s":"800 x−Stützstellen","x":-2.4,"y":18.7},{"s":"800 x−Stützstellen","x":-1.8,"y":17.3},{"s":"800 x−Stützstellen","x":-1.1,"y":18.1},{"s":"800 x−Stützstellen","x":-0.3,"y":18.6},{"s":"800 x−Stützstellen","x":0.05,"y":16.9},{"s":"800 x−Stützstellen","x":0.15,"y":17.8},{"s":"800 x−Stützstellen","x":0.3,"y":12.3},{"s":"800 x−Stützstellen","x":0.4,"y":14.5},{"s":"800 x−Stützstellen","x":0.6,"y":8.8},{"s":"800 x−Stützstellen","x":0.7,"y":10.5},{"s":"800 x−Stützstellen","x":0.8,"y":5.4},{"s":"800 x−Stützstellen","x":1.2,"y":7.0},{"s":"800 x−Stützstellen","x":2.1,"y":5.8},{"s":"800 x−Stützstellen","x":3.0,"y":4.9},{"s":"800 x−Stützstellen","x":3.9,"y":3.5},{"s":"800 x−Stützstellen","x":4.8,"y":2.6},{"s":"800 x−Stützstellen","x":5.7,"y":1.67},{"s":"800 x−Stützstellen","x":7.1,"y":1.1},{"s":"800 x−Stützstellen","x":8.4,"y":0.97},{"s":"800 x−Stützstellen","x":10.3,"y":0.5},{"s":"800 x−Stützstellen","x":12.5,"y":0.3},{"s":"800 x−Stützstellen","x":16.1,"y":0.28},{"s":"800 x−Stützstellen","x":19.7,"y":0.05},{"s":"800 x−Stützstellen","x":25,"y":0.05},{"s":"800 x−Stützstellen","x":30,"y":0.05},{"s":"800 x−Stützstellen","x":40,"y":0.02},{"s":"800 x−Stützstellen","x":60,"y":0},
{"s":"1600 x−Stützstellen","x":-60,"y":0},{"s":"1600 x−Stützstellen","x":-50,"y":0},{"s":"1600 x−Stützstellen","x":-45,"y":0.1},{"s":"1600 x−Stützstellen","x":-40,"y":0.2},{"s":"1600 x−Stützstellen","x":-35,"y":0.2},{"s":"1600 x−Stützstellen","x":-32,"y":0.4},{"s":"1600 x−Stützstellen","x":-28,"y":0.7},{"s":"1600 x−Stützstellen","x":-25,"y":1.1},{"s":"1600 x−Stützstellen","x":-22,"y":1.0},{"s":"1600 x−Stützstellen","x":-19.5,"y":1.3},{"s":"1600 x−Stützstellen","x":-18,"y":1.6},{"s":"1600 x−Stützstellen","x":-16.5,"y":1.2},{"s":"1600 x−Stützstellen","x":-15,"y":1.0},{"s":"1600 x−Stützstellen","x":-13.5,"y":0.7},{"s":"1600 x−Stützstellen","x":-12,"y":1.1},{"s":"1600 x−Stützstellen","x":-11,"y":1.4},{"s":"1600 x−Stützstellen","x":-10,"y":0.6},{"s":"1600 x−Stützstellen","x":-9,"y":1.9},{"s":"1600 x−Stützstellen","x":-8,"y":2.8},{"s":"1600 x−Stützstellen","x":-7,"y":3.7},{"s":"1600 x−Stützstellen","x":-6,"y":5.5},{"s":"1600 x−Stützstellen","x":-5,"y":7.1},{"s":"1600 x−Stützstellen","x":-4.5,"y":10.8},{"s":"1600 x−Stützstellen","x":-4,"y":11.8},{"s":"1600 x−Stützstellen","x":-3.5,"y":10.6},{"s":"1600 x−Stützstellen","x":-3,"y":10.5},{"s":"1600 x−Stützstellen","x":-2.5,"y":11.9},{"s":"1600 x−Stützstellen","x":-2,"y":11.0},{"s":"1600 x−Stützstellen","x":-1.5,"y":10.3},{"s":"1600 x−Stützstellen","x":-1,"y":10.6},{"s":"1600 x−Stützstellen","x":-0.5,"y":10.5},{"s":"1600 x−Stützstellen","x":0,"y":9.8},{"s":"1600 x−Stützstellen","x":0.2,"y":7.5},{"s":"1600 x−Stützstellen","x":0.3,"y":4.3},{"s":"1600 x−Stützstellen","x":0.45,"y":8.0},{"s":"1600 x−Stützstellen","x":0.6,"y":5.5},{"s":"1600 x−Stützstellen","x":0.8,"y":7.0},{"s":"1600 x−Stützstellen","x":1,"y":6.0},{"s":"1600 x−Stützstellen","x":2,"y":4.9},{"s":"1600 x−Stützstellen","x":3,"y":3.5},{"s":"1600 x−Stützstellen","x":4,"y":2.7},{"s":"1600 x−Stützstellen","x":5,"y":2.2},{"s":"1600 x−Stützstellen","x":6,"y":1.4},{"s":"1600 x−Stützstellen","x":7,"y":0.7},{"s":"1600 x−Stützstellen","x":8,"y":1.0},{"s":"1600 x−Stützstellen","x":9,"y":0.8},{"s":"1600 x−Stützstellen","x":10,"y":0.4},{"s":"1600 x−Stützstellen","x":13,"y":0.3},{"s":"1600 x−Stützstellen","x":16,"y":0.25},{"s":"1600 x−Stützstellen","x":20,"y":0},{"s":"1600 x−Stützstellen","x":25,"y":0.05},{"s":"1600 x−Stützstellen","x":40,"y":0.02},{"s":"1600 x−Stützstellen","x":60,"y":0},
{"s":"3200 x−Stützstellen","x":-60,"y":0},{"s":"3200 x−Stützstellen","x":-50,"y":0},{"s":"3200 x−Stützstellen","x":-40,"y":0.15},{"s":"3200 x−Stützstellen","x":-35,"y":0.1},{"s":"3200 x−Stützstellen","x":-30,"y":0.1},{"s":"3200 x−Stützstellen","x":-27,"y":0.3},{"s":"3200 x−Stützstellen","x":-25,"y":0.4},{"s":"3200 x−Stützstellen","x":-22,"y":0.2},{"s":"3200 x−Stützstellen","x":-20,"y":-0.3},{"s":"3200 x−Stützstellen","x":-18,"y":0.5},{"s":"3200 x−Stützstellen","x":-16,"y":0.2},{"s":"3200 x−Stützstellen","x":-14,"y":-0.5},{"s":"3200 x−Stützstellen","x":-12,"y":-0.4},{"s":"3200 x−Stützstellen","x":-10.5,"y":0.3},{"s":"3200 x−Stützstellen","x":-9.5,"y":-0.8},{"s":"3200 x−Stützstellen","x":-8.5,"y":1.0},{"s":"3200 x−Stützstellen","x":-7.5,"y":1.8},{"s":"3200 x−Stützstellen","x":-6.5,"y":2.7},{"s":"3200 x−Stützstellen","x":-5.5,"y":4.5},{"s":"3200 x−Stützstellen","x":-5,"y":7.0},{"s":"3200 x−Stützstellen","x":-4,"y":9.5},{"s":"3200 x−Stützstellen","x":-3.5,"y":8.5},{"s":"3200 x−Stützstellen","x":-3,"y":7.9},{"s":"3200 x−Stützstellen","x":-2.5,"y":8.2},{"s":"3200 x−Stützstellen","x":-2,"y":7.4},{"s":"3200 x−Stützstellen","x":-1,"y":8.7},{"s":"3200 x−Stützstellen","x":-0.5,"y":7.0},{"s":"3200 x−Stützstellen","x":0,"y":8.0},{"s":"3200 x−Stützstellen","x":0.2,"y":5.0},{"s":"3200 x−Stützstellen","x":0.35,"y":7.0},{"s":"3200 x−Stützstellen","x":0.5,"y":5.5},{"s":"3200 x−Stützstellen","x":0.7,"y":6.2},{"s":"3200 x−Stützstellen","x":1,"y":5.0},{"s":"3200 x−Stützstellen","x":2,"y":4.3},{"s":"3200 x−Stützstellen","x":3,"y":3.3},{"s":"3200 x−Stützstellen","x":4,"y":2.6},{"s":"3200 x−Stützstellen","x":5,"y":1.9},{"s":"3200 x−Stützstellen","x":6,"y":1.3},{"s":"3200 x−Stützstellen","x":7,"y":0.8},{"s":"3200 x−Stützstellen","x":8,"y":1.0},{"s":"3200 x−Stützstellen","x":9,"y":0.7},{"s":"3200 x−Stützstellen","x":10,"y":0.4},{"s":"3200 x−Stützstellen","x":13,"y":0.3},{"s":"3200 x−Stützstellen","x":16,"y":0.2},{"s":"3200 x−Stützstellen","x":20,"y":0},{"s":"3200 x−Stützstellen","x":60,"y":0}
]
},
"columns": 2,
"bounds": "flush",
"spacing": {"row": 94, "column": 163},
"resolve": {"scale": {"x": "independent", "y": "independent", "color": "independent", "strokeDash": "independent"}, "axis": {"x": "independent", "y": "independent"}, "legend": {"color": "independent", "strokeDash": "independent"}},
"concat": [
{
 "width": 458, "height": 360, "data": {"name": "a"},
 "layer": [
  {"mark": {"type": "line", "strokeWidth": 1},
   "encoding": {
    "x": {"field": "x", "type": "quantitative", "scale": {"domain": [-20, 20], "nice": false, "zero": false}, "axis": {"title": "x", "values": [-20,-15,-10,-5,0,5,10,15,20]}},
    "y": {"field": "y", "type": "quantitative", "scale": {"domain": [0, 1], "nice": false, "zero": false}, "axis": {"title": "1−F(x)", "values": [0,0.1,0.2,0.3,0.4,0.5,0.6,0.7,0.8,0.9,1]}},
    "color": {"field": "s", "type": "nominal", "sort": null, "scale": {"domain": ["PIDE−Lösung","MC−Simulation"], "range": ["#00ff00","#ff0000"]}, "legend": {"title": null, "orient": "top-right", "offset": 8}},
    "strokeDash": {"field": "s", "type": "nominal", "sort": null, "scale": {"domain": ["PIDE−Lösung","MC−Simulation"], "range": [[6,3,1.5,3],[1,0]]}, "legend": {"title": null, "orient": "top-right", "offset": 8}}
   }},
  {"mark": {"type": "line", "opacity": 0},
   "encoding": {
    "x": {"field": "x", "type": "quantitative", "scale": {"domain": [-20, 20], "nice": false, "zero": false}, "axis": {"orient": "top", "labels": false, "title": null, "values": [-20,-15,-10,-5,0,5,10,15,20]}},
    "y": {"field": "y", "type": "quantitative", "scale": {"domain": [0, 1], "nice": false, "zero": false}, "axis": {"orient": "right", "labels": false, "title": null, "values": [0,0.1,0.2,0.3,0.4,0.5,0.6,0.7,0.8,0.9,1]}},
    "detail": {"field": "s"}
   }}
 ],
 "resolve": {"axis": {"x": "independent", "y": "independent"}}
},
{
 "width": 458, "height": 360, "data": {"name": "b"},
 "layer": [
  {"mark": {"type": "line", "strokeWidth": 1},
   "encoding": {
    "x": {"field": "x", "type": "quantitative", "scale": {"domain": [-20, 20], "nice": false, "zero": false}, "axis": {"title": "x", "values": [-20,-15,-10,-5,0,5,10,15,20]}},
    "y": {"field": "y", "type": "quantitative", "scale": {"domain": [-0.08, 0.01], "nice": false, "zero": false}, "axis": {"title": "Differenz zur MC−Lösung", "values": [-0.08,-0.07,-0.06,-0.05,-0.04,-0.03,-0.02,-0.01,0,0.01]}},
    "color": {"field": "s", "type": "nominal", "sort": null, "scale": {"domain": ["800 x−Stützstellen","1600 x−Stützstellen","3200 x−Stützstellen"], "range": ["#0000ff","#00ff00","#000000"]}, "legend": {"title": null, "orient": "bottom-right", "offset": 12, "rowPadding": 4.5}},
    "strokeDash": {"field": "s", "type": "nominal", "sort": null, "scale": {"domain": ["800 x−Stützstellen","1600 x−Stützstellen","3200 x−Stützstellen"], "range": [[5,3],[6,3,1.5,3],[1,3]]}, "legend": {"title": null, "orient": "bottom-right", "offset": 12, "rowPadding": 4.5}}
   }},
  {"mark": {"type": "line", "opacity": 0},
   "encoding": {
    "x": {"field": "x", "type": "quantitative", "scale": {"domain": [-20, 20], "nice": false, "zero": false}, "axis": {"orient": "top", "labels": false, "title": null, "values": [-20,-15,-10,-5,0,5,10,15,20]}},
    "y": {"field": "y", "type": "quantitative", "scale": {"domain": [-0.08, 0.01], "nice": false, "zero": false}, "axis": {"orient": "right", "labels": false, "title": null, "values": [-0.08,-0.07,-0.06,-0.05,-0.04,-0.03,-0.02,-0.01,0,0.01]}},
    "detail": {"field": "s"}
   }}
 ],
 "resolve": {"axis": {"x": "independent", "y": "independent"}}
},
{
 "width": 458, "height": 360, "data": {"name": "c"},
 "layer": [
  {"mark": {"type": "line", "strokeWidth": 1},
   "encoding": {
    "x": {"field": "x", "type": "quantitative", "scale": {"domain": [-30, 30], "nice": false, "zero": false}, "axis": {"title": "x", "values": [-30,-20,-10,0,10,20,30]}},
    "y": {"field": "y", "type": "quantitative", "scale": {"domain": [0, 1], "nice": false, "zero": false}, "axis": {"title": "1−F(x)", "values": [0,0.1,0.2,0.3,0.4,0.5,0.6,0.7,0.8,0.9,1]}},
    "color": {"field": "s", "type": "nominal", "sort": null, "scale": {"domain": ["PIDE−Lösung","MC−Simulation"], "range": ["#00ff00","#ff0000"]}, "legend": {"title": null, "orient": "top-right", "offset": 8}},
    "strokeDash": {"field": "s", "type": "nominal", "sort": null, "scale": {"domain": ["PIDE−Lösung","MC−Simulation"], "range": [[6,3,1.5,3],[1,0]]}, "legend": {"title": null, "orient": "top-right", "offset": 8}}
   }},
  {"mark": {"type": "line", "opacity": 0},
   "encoding": {
    "x": {"field": "x", "type": "quantitative", "scale": {"domain": [-30, 30], "nice": false, "zero": false}, "axis": {"orient": "top", "labels": false, "title": null, "values": [-30,-20,-10,0,10,20,30]}},
    "y": {"field": "y", "type": "quantitative", "scale": {"domain": [0, 1], "nice": false, "zero": false}, "axis": {"orient": "right", "labels": false, "title": null, "values": [0,0.1,0.2,0.3,0.4,0.5,0.6,0.7,0.8,0.9,1]}},
    "detail": {"field": "s"}
   }}
 ],
 "resolve": {"axis": {"x": "independent", "y": "independent"}}
},
{
 "width": 458, "height": 360, "data": {"name": "d"},
 "title": {"text": "x 10⁻³", "anchor": "start", "offset": -13, "baseline": "alphabetic", "frame": "group"},
 "layer": [
  {"mark": {"type": "line", "strokeWidth": 1},
   "encoding": {
    "x": {"field": "x", "type": "quantitative", "scale": {"domain": [-30, 30], "nice": false, "zero": false}, "axis": {"title": "x", "values": [-30,-20,-10,0,10,20,30]}},
    "y": {"field": "y", "type": "quantitative", "scale": {"domain": [-5, 20], "nice": false, "zero": false}, "axis": {"title": "Differenz zur MC−Lösung", "values": [-5,0,5,10,15,20]}},
    "color": {"field": "s", "type": "nominal", "sort": null, "scale": {"domain": ["800 x−Stützstellen","1600 x−Stützstellen","3200 x−Stützstellen"], "range": ["#0000ff","#00ff00","#000000"]}, "legend": {"title": null, "orient": "top-right", "offset": 8}},
    "strokeDash": {"field": "s", "type": "nominal", "sort": null, "scale": {"domain": ["800 x−Stützstellen","1600 x−Stützstellen","3200 x−Stützstellen"], "range": [[5,3],[6,3,1.5,3],[1,3]]}, "legend": {"title": null, "orient": "top-right", "offset": 8}}
   }},
  {"mark": {"type": "line", "opacity": 0},
   "encoding": {
    "x": {"field": "x", "type": "quantitative", "scale": {"domain": [-30, 30], "nice": false, "zero": false}, "axis": {"orient": "top", "labels": false, "title": null, "values": [-30,-20,-10,0,10,20,30]}},
    "y": {"field": "y", "type": "quantitative", "scale": {"domain": [-5, 20], "nice": false, "zero": false}, "axis": {"orient": "right", "labels": false, "title": null, "values": [-5,0,5,10,15,20]}},
    "detail": {"field": "s"}
   }}
 ],
 "resolve": {"axis": {"x": "independent", "y": "independent"}}
},
{
 "width": 458, "height": 360, "data": {"name": "e"},
 "layer": [
  {"mark": {"type": "line", "strokeWidth": 1},
   "encoding": {
    "x": {"field": "x", "type": "quantitative", "scale": {"domain": [-60, 60], "nice": false, "zero": false}, "axis": {"title": "x", "values": [-60,-40,-20,0,20,40,60]}},
    "y": {"field": "y", "type": "quantitative", "scale": {"domain": [0, 1], "nice": false, "zero": false}, "axis": {"title": "1−F(x)", "values": [0,0.1,0.2,0.3,0.4,0.5,0.6,0.7,0.8,0.9,1]}},
    "color": {"field": "s", "type": "nominal", "sort": null, "scale": {"domain": ["PIDE−Lösung","MC−Simulation"], "range": ["#00ff00","#ff0000"]}, "legend": {"title": null, "orient": "top-right", "offset": 8}},
    "strokeDash": {"field": "s", "type": "nominal", "sort": null, "scale": {"domain": ["PIDE−Lösung","MC−Simulation"], "range": [[6,3,1.5,3],[1,0]]}, "legend": {"title": null, "orient": "top-right", "offset": 8}}
   }},
  {"mark": {"type": "line", "opacity": 0},
   "encoding": {
    "x": {"field": "x", "type": "quantitative", "scale": {"domain": [-60, 60], "nice": false, "zero": false}, "axis": {"orient": "top", "labels": false, "title": null, "values": [-60,-40,-20,0,20,40,60]}},
    "y": {"field": "y", "type": "quantitative", "scale": {"domain": [0, 1], "nice": false, "zero": false}, "axis": {"orient": "right", "labels": false, "title": null, "values": [0,0.1,0.2,0.3,0.4,0.5,0.6,0.7,0.8,0.9,1]}},
    "detail": {"field": "s"}
   }}
 ],
 "resolve": {"axis": {"x": "independent", "y": "independent"}}
},
{
 "width": 458, "height": 360, "data": {"name": "f"},
 "title": {"text": "x 10⁻³", "anchor": "start", "offset": -13, "baseline": "alphabetic", "frame": "group"},
 "layer": [
  {"mark": {"type": "line", "strokeWidth": 1},
   "encoding": {
    "x": {"field": "x", "type": "quantitative", "scale": {"domain": [-60, 60], "nice": false, "zero": false}, "axis": {"title": "x", "values": [-60,-40,-20,0,20,40,60]}},
    "y": {"field": "y", "type": "quantitative", "scale": {"domain": [-5, 20], "nice": false, "zero": false}, "axis": {"title": "Differenz zur MC−Lösung", "values": [-5,0,5,10,15,20]}},
    "color": {"field": "s", "type": "nominal", "sort": null, "scale": {"domain": ["800 x−Stützstellen","1600 x−Stützstellen","3200 x−Stützstellen"], "range": ["#0000ff","#00ff00","#000000"]}, "legend": {"title": null, "orient": "top-right", "offset": 8}},
    "strokeDash": {"field": "s", "type": "nominal", "sort": null, "scale": {"domain": ["800 x−Stützstellen","1600 x−Stützstellen","3200 x−Stützstellen"], "range": [[5,3],[6,3,1.5,3],[1,3]]}, "legend": {"title": null, "orient": "top-right", "offset": 8}}
   }},
  {"mark": {"type": "line", "opacity": 0},
   "encoding": {
    "x": {"field": "x", "type": "quantitative", "scale": {"domain": [-60, 60], "nice": false, "zero": false}, "axis": {"orient": "top", "labels": false, "title": null, "values": [-60,-40,-20,0,20,40,60]}},
    "y": {"field": "y", "type": "quantitative", "scale": {"domain": [-5, 20], "nice": false, "zero": false}, "axis": {"orient": "right", "labels": false, "title": null, "values": [-5,0,5,10,15,20]}},
    "detail": {"field": "s"}
   }}
 ],
 "resolve": {"axis": {"x": "independent", "y": "independent"}}
}
]
}
